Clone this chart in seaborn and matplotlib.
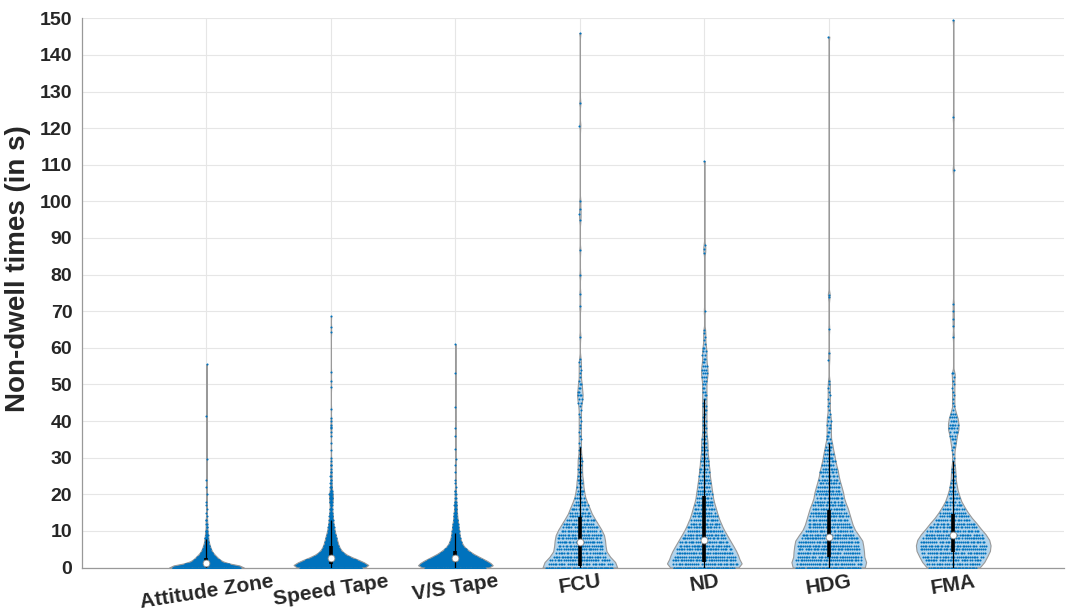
import numpy as np
import pandas as pd
import matplotlib
matplotlib.use("Agg")
import matplotlib.pyplot as plt
import seaborn as sns

categories = ["Attitude Zone", "Speed Tape", "V/S Tape", "FCU", "ND", "HDG", "FMA"]

# number of non-dwell times per 1 s bin (list index = seconds)
attitude_counts = [135, 55, 36, 27, 17, 12, 9, 6, 5, 4, 3, 2, 2, 2, 1, 1]
speed_counts = [132, 114, 90, 60, 39, 30, 24, 21, 18, 15, 12, 10, 8, 7, 6, 5, 4, 4, 5, 6,
                6, 4, 3, 2, 2, 2, 2, 1, 2, 1, 1]
vs_counts = [128, 114, 96, 72, 51, 36, 24, 19, 15, 13, 12, 10, 9, 7, 6, 5, 4, 4, 3, 2,
             2, 2, 1, 1, 1]
fcu_counts = [52, 30, 30, 27, 24, 23, 23, 23, 22, 22, 20, 18, 16, 14, 12, 10, 9, 8, 6, 5,
              4, 4, 3, 3, 3, 2, 2, 2, 2, 2, 2, 1, 1, 1, 1, 1, 1, 1, 1, 1,
              1, 1, 1, 1, 1, 2, 2, 3, 2, 2, 2, 1, 1, 1, 1, 1, 1, 1]
nd_counts = [48, 32, 34, 32, 31, 29, 27, 25, 23, 21, 19, 17, 16, 14, 13, 12, 11, 10, 9, 8,
             8, 7, 7, 6, 6, 5, 5, 5, 4, 4, 4, 3, 3, 3, 3, 3, 2, 2, 2, 2,
             2, 2, 2, 2, 2, 2, 2, 2, 2, 2, 2, 2, 3, 3, 3, 3, 2, 2, 2, 2,
             2, 1, 1, 1, 1, 1]
hdg_counts = [51, 33, 34, 33, 33, 33, 32, 32, 31, 27, 25, 23, 22, 21, 20, 19, 18, 17, 15, 14,
              14, 13, 12, 11, 10, 9, 9, 8, 7, 6, 6, 5, 4, 4, 3, 2, 2, 2, 2, 2,
              2, 2, 1, 1, 1, 1, 1, 1, 1, 1, 1, 1]
fma_counts = [34, 25, 28, 30, 32, 33, 33, 33, 31, 29, 26, 23, 21, 18, 15, 13, 11, 9, 7, 6,
              5, 4, 3, 3, 2, 2, 2, 2, 1, 1, 1, 1, 1, 2, 2, 3, 3, 4, 5, 5,
              4, 4, 3, 1, 1, 1, 1, 1, 1, 1, 1, 1, 1, 2]

# single long non-dwell times above the bins
attitude_tail = [16, 17, 18, 20, 22, 24, 29.5, 41.5, 55.5]
speed_tail = [32, 34, 36, 37, 38, 38.5, 39, 40, 40.7, 43.3, 49.2, 51, 53.3, 64.2, 65.7, 68.6]
vs_tail = [26, 28, 29.5, 32.5, 36, 38, 43.8, 53.2, 61]
fcu_tail = [63, 71.3, 74.6, 80, 86.6, 95, 96.5, 98, 100, 120.5, 127, 146]
nd_tail = [70, 86, 87, 88, 111]
hdg_tail = [56.6, 58.6, 65.2, 74, 74.5, 145]
fma_tail = [63, 66, 68, 70, 72, 108.5, 123, 149.5]

# box summary as drawn in the figure
q1 = [0.4, 0.9, 1.4, 0.5, 1.5, 3.0, 4.2]
medians = [1.2, 2.5, 2.5, 7.1, 7.4, 8.2, 9.0]
q3 = [2.5, 6.0, 4.5, 13.7, 19.5, 15.6, 14.5]
whisker_lo = [0, 0, 0, 0, 0, 0, 0]
whisker_hi = [7.8, 13.0, 9.5, 33.0, 46.0, 34.0, 29.0]

all_counts = [attitude_counts, speed_counts, vs_counts, fcu_counts, nd_counts, hdg_counts, fma_counts]
all_tails = [attitude_tail, speed_tail, vs_tail, fcu_tail, nd_tail, hdg_tail, fma_tail]

blue = "#0072BD"
light = "#B3D4EC"
fills = [blue] * 3 + [light] * 4
bw = [0.6] * 3 + [0.8] * 4  # kde bandwidth in seconds


def expand(counts, tail):
    return np.concatenate([np.repeat(np.arange(len(counts)), counts), tail]).astype(float)


sns.set_theme(style="white")
plt.rcParams["font.family"] = ["Liberation Sans", "DejaVu Sans"]

fig = plt.figure(figsize=(10.75, 6.1), dpi=100)
ax = fig.add_axes([82 / 1075, 1 - 567.5 / 610, (1064 - 82) / 1075, (567.5 - 18.3) / 610])

golden = (np.sqrt(5) - 1) / 2
for i, cat in enumerate(categories):
    vals = expand(all_counts[i], all_tails[i])
    df = pd.DataFrame({"area": cat, "t": vals})
    sns.violinplot(data=df, x="area", y="t", order=categories, color=fills[i], saturation=1,
                   cut=0, inner=None, density_norm="width", width=0.6,
                   bw_method=bw[i] / vals.std(ddof=1), linewidth=0.8, linecolor="0.6", ax=ax)
    # jitter the points across the violin width at their height
    verts = ax.collections[-1].get_paths()[0].vertices
    right = verts[verts[:, 0] >= i]
    o = np.argsort(right[:, 1])
    hw = np.interp(vals, right[o, 1], right[o, 0] - i)
    offs = ((np.arange(len(vals)) * golden) % 1.0) * 2 - 1
    ax.scatter(i + offs * hw * 0.9, vals, s=2.2, color=blue, linewidths=0, zorder=3)

pos = np.arange(len(categories))
ax.vlines(pos, whisker_lo, whisker_hi, colors="black", lw=0.9, zorder=4)
ax.vlines(pos, q1, q3, colors="black", lw=2.6, zorder=5)
ax.scatter(pos, medians, s=24, c="white", edgecolors="0.55", linewidths=0.6, zorder=6)

ax.set_xlim(-1, 6.89)
ax.set_ylim(0, 150)
ax.set_yticks(range(0, 151, 10))
ax.grid(True, color="#E6E6E6", lw=0.8)
ax.set_axisbelow(True)
for s in ["top", "right"]:
    ax.spines[s].set_visible(False)
for s in ["left", "bottom"]:
    ax.spines[s].set_color("0.6")
    ax.spines[s].set_linewidth(0.9)
ax.tick_params(axis="y", direction="in", length=5, color="0.6", labelsize=14, labelcolor="#262626", pad=7)
ax.tick_params(axis="x", length=0, labelsize=15, labelcolor="#262626", pad=3)
for lab in ax.get_xticklabels() + ax.get_yticklabels():
    lab.set_fontweight("bold")
for lab in ax.get_xticklabels():
    lab.set_rotation(9)
ax.set_xlabel("")
ax.set_ylabel("Non-dwell times (in s)", fontsize=20, fontweight="bold", color="#262626", labelpad=4)
ax.yaxis.set_label_coords(-0.052, 0.5435)

fig.savefig("out.png", dpi=100)
